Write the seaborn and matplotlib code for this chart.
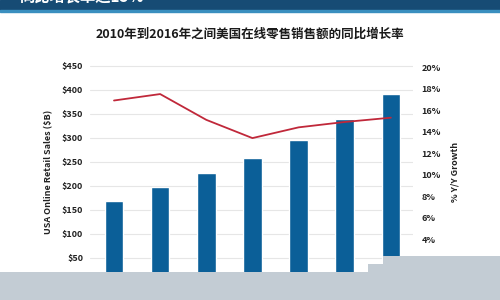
import pandas as pd
import matplotlib
matplotlib.use("Agg")
import matplotlib.pyplot as plt
from matplotlib.patches import Rectangle, Polygon
import seaborn as sns

# data
years = ["2010", "2011", "2012", "2013", "2014", "2015", "2016"]
sales = [169, 198, 228, 259, 296, 340, 392]          # $B
growth = [16.9, 17.5, 15.1, 13.4, 14.4, 14.9, 15.3]  # % Y/Y
left_ticks = [50, 100, 150, 200, 250, 300, 350, 400, 450]
right_ticks = [4, 6, 8, 10, 12, 14, 16, 18, 20]

df = pd.DataFrame({"year": years, "sales": sales, "growth": growth})

sns.set_theme(style="white")
plt.rcParams["font.family"] = ["Noto Sans CJK SC", "DejaVu Sans"]

fig = plt.figure(figsize=(5, 3), dpi=100)
fig.patch.set_facecolor("white")

ax = fig.add_axes([0.18, 0.06, 0.646, 0.736])

sns.barplot(data=df, x="year", y="sales", color="#0b5f98", width=0.4,
            saturation=1, ax=ax, zorder=2)
ax.set_xlim(-0.52, 6.48)
ax.set_ylim(0, 460)
ax.set_yticks(left_ticks)
ax.set_yticklabels(["$" + str(v) for v in left_ticks], fontsize=6.5,
                   fontweight="bold", color="#222222")
ax.yaxis.grid(True, color="#e6e6e6", linewidth=0.8, zorder=0)
ax.set_axisbelow(True)
ax.set_xticks([])
ax.set_xlabel("")
ax.set_ylabel("USA Online Retail Sales ($B)", fontsize=6.5, fontweight="bold",
              color="#222222", labelpad=6)
ax.tick_params(axis="y", length=0, pad=5)
sns.despine(ax=ax, left=True, bottom=True)

ax2 = ax.twinx()
sns.lineplot(data=df, x="year", y="growth", color="#c0283a", linewidth=1.3,
             ax=ax2, zorder=3)
ax2.set_ylim(0, 20.56)
ax2.set_yticks(right_ticks)
ax2.set_yticklabels([str(v) + "%" for v in right_ticks], fontsize=6.5,
                    fontweight="bold", color="#222222")
ax2.set_ylabel("% Y/Y Growth", fontsize=6.5, fontweight="bold",
               color="#222222", labelpad=7)
ax2.tick_params(axis="y", length=0, pad=6)
ax2.set_xlabel("")
ax2.set_xticks([])
sns.despine(ax=ax2, left=True, bottom=True, right=True)

# title
fig.text(0.5, 0.887, "2010年到2016年之间美国在线零售销售额的同比增长率",
         ha="center", va="center", fontsize=9, fontweight="bold",
         color="#1a1a1a")

# top banner (cut off in the source)
fig.patches.append(Rectangle((0, 1 - 10 / 300), 1, 10 / 300,
                             transform=fig.transFigure, color="#164b74",
                             zorder=5))
fig.patches.append(Rectangle((0, 1 - 12 / 300), 1, 2 / 300,
                             transform=fig.transFigure, color="#3a8fbf",
                             zorder=5))
fig.text(0.04, 1 - 2 / 300, "同比增长率达15%", color="white", fontsize=11,
         fontweight="bold", va="baseline", zorder=6)

# grey strip at the bottom
pts = [(0, 272), (368, 272), (368, 264), (383, 264), (383, 256),
       (500, 256), (500, 300), (0, 300)]
pts = [(x / 500, 1 - y / 300) for x, y in pts]
fig.patches.append(Polygon(pts, closed=True, transform=fig.transFigure,
                           facecolor="#c3ccd4", edgecolor="none", zorder=10))

fig.savefig("out.png", dpi=100)
